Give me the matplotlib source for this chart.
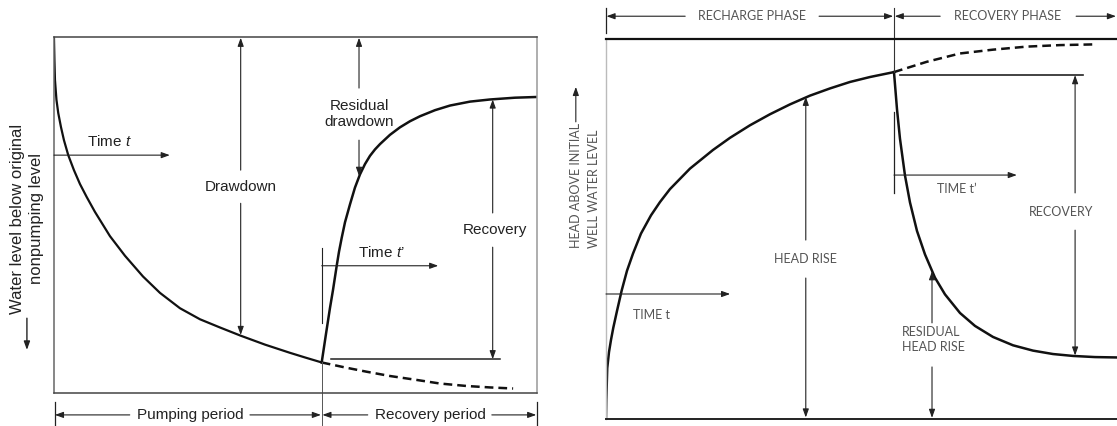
import matplotlib
matplotlib.use("Agg")
import matplotlib.pyplot as plt

plt.rcParams['mathtext.fontset'] = 'custom'
plt.rcParams['mathtext.it'] = 'Liberation Sans:italic'
plt.rcParams['mathtext.rm'] = 'Liberation Sans'

# left panel: pumping test, time 0-100, water level below original 0-100
pump_t = [0, 0.1, 0.21, 0.52, 0.89, 1.45, 2.07, 2.96, 4.14, 5.39, 6.77, 8.49, 11.6,
          14.71, 18.44, 21.96, 26.1, 30.25, 34.39, 38.68, 43.71, 48.89, 52.0, 55.46]
pump_s = [0, 6.5, 12.1, 17.7, 21.4, 25.3, 29.0, 33.2, 37.4, 41.3, 44.9, 49.1, 55.9,
          61.4, 67.2, 71.8, 76.1, 79.2, 81.5, 83.8, 86.3, 88.6, 89.9, 91.3]
recov_t = [55.46, 56.35, 57.18, 57.8, 58.57, 59.04, 59.6, 60.29, 61.32, 62.35, 63.39,
           64.43, 65.46, 66.5, 67.54, 69.61, 71.68, 73.75, 75.82, 78.93, 82.04,
           86.18, 90.33, 95.51, 100]
recov_s = [91.3, 83.3, 76.0, 71.0, 64.2, 60.3, 56.4, 52.0, 47.0, 42.3, 38.6,
           35.7, 33.4, 31.6, 30.1, 27.5, 25.4, 23.7, 22.3, 20.6, 19.3,
           18.2, 17.6, 17.1, 16.9]
trend_t = [55.46, 60.29, 64.78, 69.61, 75.14, 79.92, 85.5, 90.33, 95.11]
trend_s = [91.3, 92.7, 93.9, 95.1, 96.2, 97.2, 97.9, 98.3, 98.6]

# right panel: recharge test, time 0-100, head above initial level 0-100
charge_t = [0, 0.06, 0.25, 0.59, 0.98, 1.43, 2.15, 3.07, 4.11, 5.28, 6.85, 8.81,
            10.57, 12.52, 16.44, 20.94, 24.27, 28.18, 32.09, 36.01, 39.92, 43.84,
            47.75, 51.66, 56.36]
charge_h = [0, 5.0, 13.4, 17.6, 20.8, 24.0, 28.4, 33.8, 39.0, 43.5, 48.8, 53.6,
            57.1, 60.5, 65.9, 70.8, 74.0, 77.3, 80.2, 82.8, 85.1, 87.0,
            88.7, 90.0, 91.3]
fall_t = [56.36, 56.95, 57.53, 58.51, 59.49, 60.86, 62.43, 64.38, 66.34, 69.28,
          72.21, 75.73, 79.65, 83.56, 87.48, 91.39, 95.69, 100]
fall_h = [91.3, 81.5, 73.8, 64.1, 57.0, 49.5, 43.3, 37.2, 32.8, 27.9,
          24.5, 21.6, 19.4, 18.0, 17.1, 16.6, 16.3, 16.2]
trend2_t = [56.36, 62.76, 69.28, 75.73, 82.33, 88.85, 96.03]
trend2_h = [91.3, 94.0, 96.2, 97.2, 98.0, 98.4, 98.6]


def arrow(ax, x0, y0, x1, y1, color, lw=0.8):
    ax.annotate('', xy=(x1, y1), xytext=(x0, y0), annotation_clip=False,
                arrowprops=dict(arrowstyle='-|>,head_length=0.5,head_width=0.18',
                                mutation_scale=10, color=color, lw=lw,
                                shrinkA=0, shrinkB=0))


fig = plt.figure(figsize=(11.17, 4.26), dpi=100)

# ---------------- left panel ----------------
ink = '#222222'
axL = fig.add_axes([0.0483, 0.0763, 0.4322, 0.8376])
axL.set_xlim(0, 100)
axL.set_ylim(100, 0)
axL.set_xticks([])
axL.set_yticks([])
for side, col in [('top', '#444444'), ('bottom', '#444444'), ('left', '#666666'), ('right', '#999999')]:
    axL.spines[side].set_color(col)
    axL.spines[side].set_linewidth(1.1)

fL = dict(family='Liberation Sans', color=ink, fontsize=11)
axL.plot(pump_t, pump_s, color='#111111', lw=1.6)
axL.plot(recov_t, recov_s, color='#111111', lw=1.8)
axL.plot(trend_t, trend_s, color='#111111', lw=1.8, dashes=(3.5, 2))

axL.text(38.68, 42.1, 'Drawdown', ha='center', va='center', **fL)
arrow(axL, 38.68, 37.4, 38.68, 0.3, ink)
arrow(axL, 38.68, 46.7, 38.68, 83.6, ink)

axL.text(63.19, 21.7, 'Residual\ndrawdown', ha='center', va='center', linespacing=1.15, **fL)
arrow(axL, 63.19, 14.4, 63.19, 0.3, ink)
arrow(axL, 63.19, 29.0, 63.19, 39.0, ink)

axL.text(91.3, 54.2, 'Recovery', ha='center', va='center', **fL)
arrow(axL, 90.88, 49.4, 90.88, 17.6, ink)
arrow(axL, 90.88, 59.0, 90.88, 90.4, ink)
axL.plot([57.3, 92.4], [90.4, 90.4], color=ink, lw=1.1)

arrow(axL, 0, 33.2, 24.0, 33.2, ink)
axL.text(6.8, 29.5, 'Time $t$', ha='left', va='center', **fL)

axL.plot([55.46, 55.46], [59.2, 80.2], color=ink, lw=0.8)
arrow(axL, 55.46, 64.2, 79.6, 64.2, ink)
axL.text(63.0, 60.5, 'Time $t$\u2019', ha='left', va='center', **fL)

axL.plot([55.46, 55.46], [91.3, 108.8], color='#555555', lw=0.7, clip_on=False)
for x in [0.2, 100]:
    axL.plot([x, x], [102.4, 108.8], color=ink, lw=0.9, clip_on=False)
axL.text(28.2, 106, 'Pumping period', ha='center', va='center', **fL)
arrow(axL, 15.7, 106, 0.2, 106, ink)
arrow(axL, 40.6, 106, 55.3, 106, ink)
axL.text(77.9, 106, 'Recovery period', ha='center', va='center', **fL)
arrow(axL, 65.0, 106, 55.6, 106, ink)
arrow(axL, 90.7, 106, 99.9, 106, ink)

axL.text(-7.5, 51, 'Water level below original', rotation=90, ha='center', va='center',
         family='Liberation Sans', color=ink, fontsize=12)
axL.text(-3.7, 51, 'nonpumping level', rotation=90, ha='center', va='center',
         family='Liberation Sans', color=ink, fontsize=12)
arrow(axL, -5.6, 78.9, -5.6, 87.8, ink, lw=1.0)

# ---------------- right panel ----------------
grey = '#555555'
axR = fig.add_axes([0.5425, 0.0164, 0.4575, 0.8920])
axR.set_xlim(0, 100)
axR.set_ylim(0, 100)
axR.set_xticks([])
axR.set_yticks([])
axR.spines['right'].set_visible(False)
axR.spines['top'].set_color('#111111')
axR.spines['top'].set_linewidth(1.6)
axR.spines['bottom'].set_color('#222222')
axR.spines['bottom'].set_linewidth(1.4)
axR.spines['left'].set_color('#bbbbbb')
axR.spines['left'].set_linewidth(1.0)

fR = dict(family='Lato', color=grey, fontsize=9)
axR.plot(charge_t, charge_h, color='#111111', lw=1.8)
axR.plot(fall_t, fall_h, color='#111111', lw=1.8)
axR.plot(trend2_t, trend2_h, color='#111111', lw=1.8, dashes=(3.5, 2))

axR.text(39.1, 42.0, 'HEAD RISE', ha='center', va='center', **fR)
arrow(axR, 39.1, 47.1, 39.1, 84.8, '#222222')
arrow(axR, 39.1, 37.1, 39.1, 0.4, '#222222')

axR.plot([57.5, 93.3], [90.5, 90.5], color='#222222', lw=1.2)
axR.text(89.0, 54.5, 'RECOVERY', ha='center', va='center', **fR)
arrow(axR, 91.8, 59.5, 91.8, 90.5, '#222222')
arrow(axR, 91.8, 49.7, 91.8, 16.7, '#222222')

axR.plot([56.36, 56.36], [59.5, 80.8], color='#222222', lw=0.9)
arrow(axR, 56.36, 64.2, 80.4, 64.2, '#222222')
axR.text(64.8, 60.5, 'TIME t\u2019', ha='left', va='center', **fR)

axR.text(57.9, 21.0, 'RESIDUAL\nHEAD RISE', ha='left', va='center', linespacing=1.3, **fR)
arrow(axR, 63.8, 25.3, 63.8, 38.9, '#222222')
arrow(axR, 63.8, 13.7, 63.8, 0.3, '#222222')

arrow(axR, 0, 32.9, 24.3, 32.9, '#222222')
axR.text(5.3, 27.4, 'TIME t', ha='left', va='center', **fR)

axR.plot([56.36, 56.36], [91.3, 108.2], color='#333333', lw=0.8, clip_on=False)
axR.plot([0.1, 0.1], [101.6, 108.2], color='#222222', lw=0.9, clip_on=False)
axR.text(28.6, 106, 'RECHARGE PHASE', ha='center', va='center', **fR)
arrow(axR, 15.5, 106, 0.1, 106, '#222222')
arrow(axR, 41.7, 106, 56.2, 106, '#222222')
axR.text(78.5, 106, 'RECOVERY PHASE', ha='center', va='center', **fR)
arrow(axR, 65.4, 106, 56.5, 106, '#222222')
arrow(axR, 92.0, 106, 99.8, 106, '#222222')

axR.text(-5.9, 45, 'HEAD ABOVE INITIAL', rotation=90, rotation_mode='anchor',
         ha='left', va='center', **fR)
axR.text(-2.3, 45, 'WELL WATER LEVEL', rotation=90, rotation_mode='anchor',
         ha='left', va='center', **fR)
arrow(axR, -5.9, 78.2, -5.9, 87.4, '#222222')

fig.savefig('out.png', dpi=100)
